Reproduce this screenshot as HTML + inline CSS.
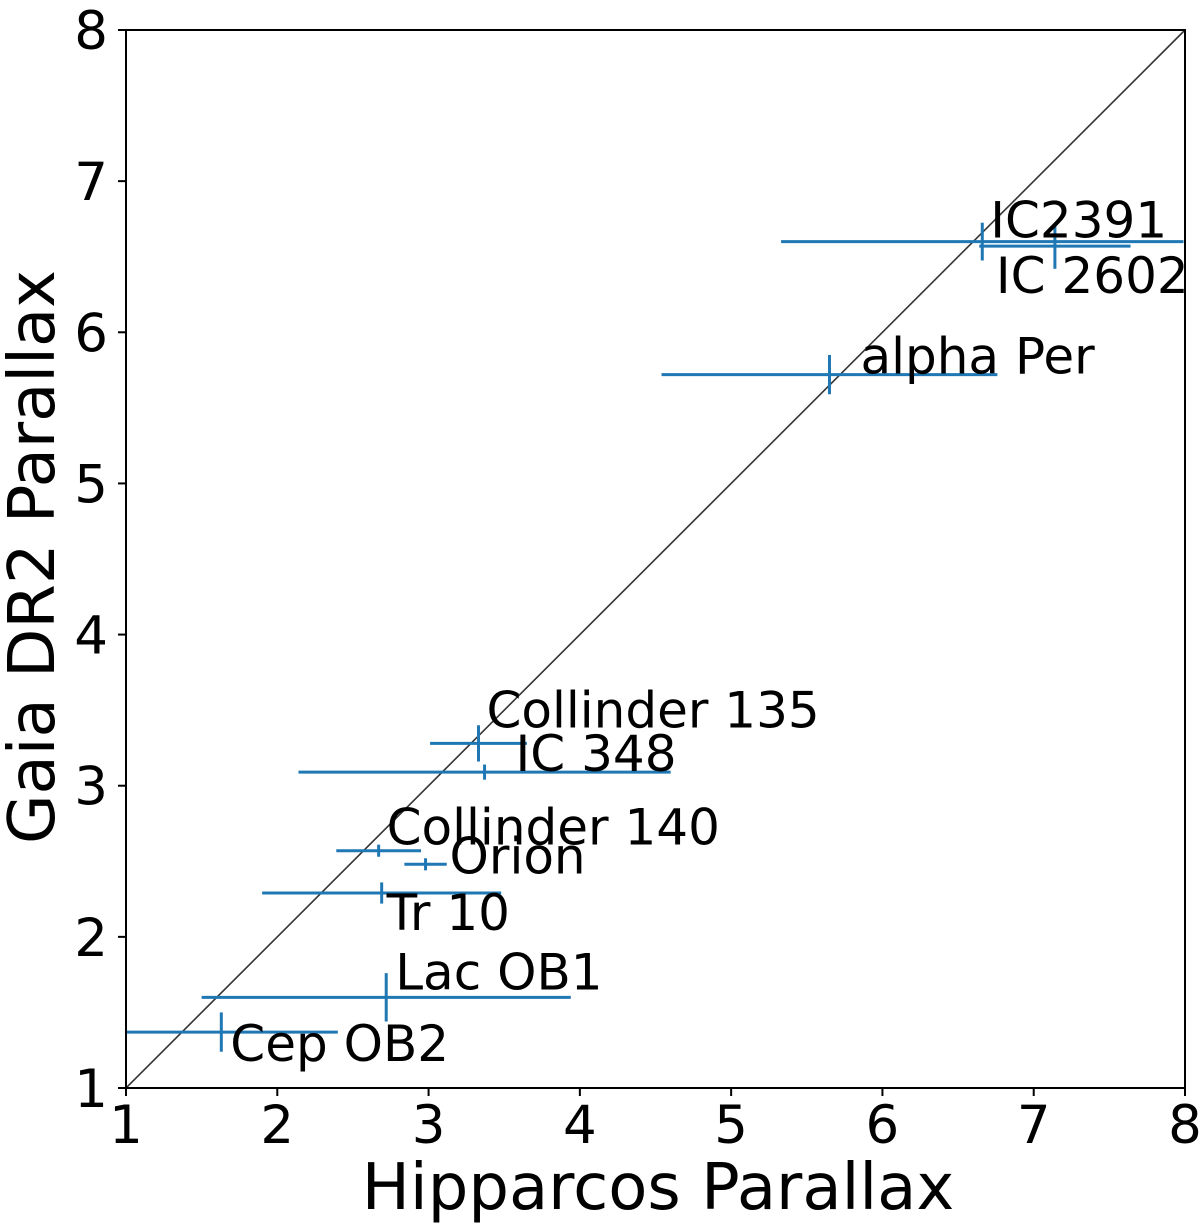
<!DOCTYPE html>
<html><head><meta charset="utf-8"><style>
body{margin:0;background:#fff}
svg{display:block}
text{font-family:"DejaVu Sans","Liberation Sans",sans-serif;fill:#000}
</style></head><body>
<svg id="chart" width="1200" height="1226" viewBox="0 0 1200 1226" xmlns="http://www.w3.org/2000/svg">
<defs><clipPath id="plotclip"><rect x="126" y="30" width="1059" height="1058"/></clipPath></defs>
<g id="plot"></g>
</svg>
<script>
const clusterNames = ["IC2391","IC 2602","alpha Per","Collinder 135","IC 348","Collinder 140","Orion","Tr 10","Lac OB1","Cep OB2"];
const hipParallax = [6.66,7.14,5.65,3.33,3.37,2.67,2.98,2.69,2.72,1.63];
const hipErr = [1.33,0.50,1.11,0.32,1.23,0.28,0.14,0.79,1.22,0.77];
const gaiaParallax = [6.60,6.57,5.72,3.28,3.09,2.57,2.48,2.29,1.60,1.37];
const gaiaErr = [0.125,0.15,0.13,0.12,0.05,0.04,0.04,0.07,0.16,0.13];
const xTicks = [1,2,3,4,5,6,7,8];
const yTicks = [1,2,3,4,5,6,7,8];
// label offsets in pixels relative to point (layout, not data)
const labelDx = [8,-59,31,8,31,8,24,5,9,9];
const labelDy = [-4,47,-1,-16,-1,-6,9,37,-8,29];

const NS="http://www.w3.org/2000/svg";
const X0=126,X1=1185,Y0=1088,Y1=30,VMIN=1,VMAX=8;
function xs(v){return X0+(v-VMIN)/(VMAX-VMIN)*(X1-X0);}
function ys(v){return Y0-(v-VMIN)/(VMAX-VMIN)*(Y0-Y1);}
const svg=document.getElementById('chart');
const plot=document.getElementById('plot');
function el(tag,attrs,parent){const e=document.createElementNS(NS,tag);for(const k in attrs)e.setAttribute(k,attrs[k]);(parent||svg).appendChild(e);return e;}

const diag=el('line',{x1:xs(1),y1:ys(1),x2:xs(8),y2:ys(8),stroke:'#333',"stroke-width":1.6},plot);



const eg=el('g',{"clip-path":"url(#plotclip)"},plot);


for(let i=0;i<clusterNames.length;i++){
  const cx=xs(hipParallax[i]),cy=ys(gaiaParallax[i]);
  const g=el('g',{},eg);
  
  
  el('line',{x1:xs(hipParallax[i]-hipErr[i]),x2:xs(hipParallax[i]+hipErr[i]),y1:cy,y2:cy,stroke:'#1f77b4',"stroke-width":3},g);
  el('line',{x1:cx,x2:cx,y1:ys(gaiaParallax[i]-gaiaErr[i]),y2:ys(gaiaParallax[i]+gaiaErr[i]),stroke:'#1f77b4',"stroke-width":3},g);
}
for(let i=0;i<clusterNames.length;i++){
  const t=el('text',{x:xs(hipParallax[i])+labelDx[i],y:ys(gaiaParallax[i])+labelDy[i],"font-size":50},plot);
  t.textContent=clusterNames[i];
  
  
}
const fr=el('rect',{x:X0,y:Y1,width:X1-X0,height:Y0-Y1,fill:'none',stroke:'#000',"stroke-width":2});


for(const v of xTicks){
  el('line',{x1:xs(v),x2:xs(v),y1:Y0,y2:Y0+8,stroke:'#000',"stroke-width":2});
  const t=el('text',{x:xs(v),y:1143,"font-size":53,"text-anchor":"middle"});
  t.textContent=v;
  
  
}
for(const v of yTicks){
  el('line',{x1:X0-8,x2:X0,y1:ys(v),y2:ys(v),stroke:'#000',"stroke-width":2});
  const t=el('text',{x:108,y:ys(v)+19,"font-size":53,"text-anchor":"end"});
  t.textContent=v;
  
  
}
const xt=el('text',{x:658,y:1209,"font-size":64,"text-anchor":"middle"});
xt.textContent='Hipparcos Parallax';


const yt=el('text',{x:0,y:0,"font-size":64,"text-anchor":"middle",transform:"translate(54,557) rotate(-90)"});
yt.textContent='Gaia DR2 Parallax';


</script>
</body></html>
